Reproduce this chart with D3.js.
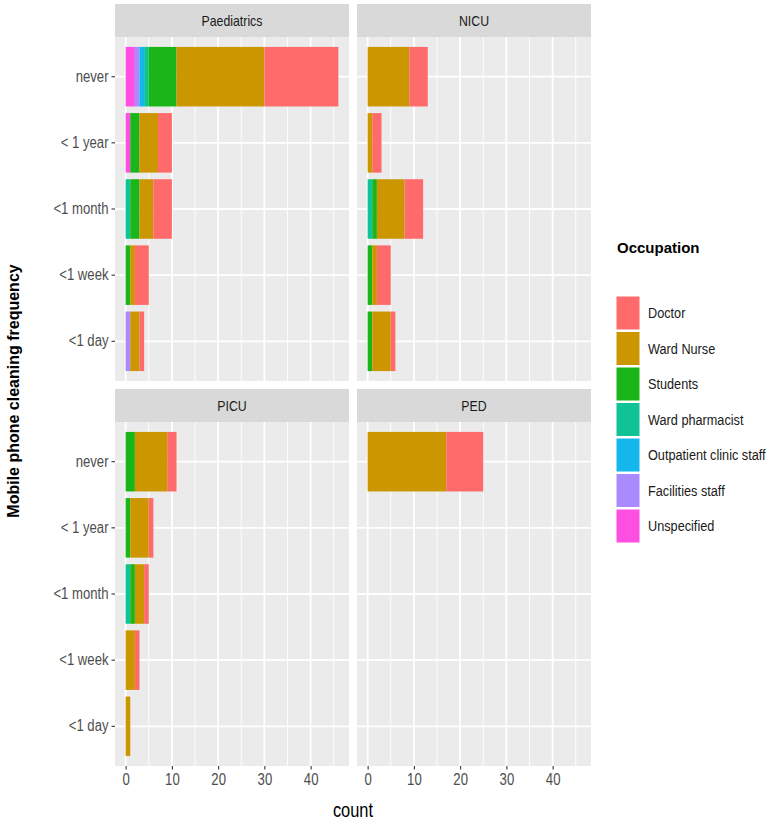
<html>
  <head>
    <style>
      body { margin: 0; background: white; }
      text { font-family: "Liberation Sans", Arial, Helvetica, sans-serif; }
    </style>
  </head>
  <body>
    <script src="https://d3js.org/d3.v7.min.js"></script>
    <script>
    // categories (top to bottom)
    var freq = ["never", "< 1 year", "<1 month", "<1 week", "<1 day"];
    var units = ["Paediatrics", "NICU", "PICU", "PED"];
    var occupations = ["Doctor", "Ward Nurse", "Students", "Ward pharmacist",
                       "Outpatient clinic staff", "Facilities staff", "Unspecified"];
    var colours = ["#FF6B6B", "#CC9600", "#19B519", "#10C396", "#14B7EC", "#A98AFF", "#FF4FE2"];

    // counts per occupation, in the order of freq
    var paediatrics = {
      "Doctor":                  [16, 3, 4, 3, 1],
      "Ward Nurse":              [19, 4, 3, 1, 2],
      "Students":                [6, 2, 2, 1, 0],
      "Ward pharmacist":         [1, 0, 1, 0, 0],
      "Outpatient clinic staff": [1, 0, 0, 0, 0],
      "Facilities staff":        [1, 0, 0, 0, 1],
      "Unspecified":             [2, 1, 0, 0, 0]
    };
    var nicu = {
      "Doctor":          [4, 2, 4, 3, 1],
      "Ward Nurse":      [9, 1, 6, 1, 4],
      "Students":        [0, 0, 1, 1, 1],
      "Ward pharmacist": [0, 0, 1, 0, 0]
    };
    var picu = {
      "Doctor":          [2, 1, 1, 1, 0],
      "Ward Nurse":      [7, 4, 2, 2, 1],
      "Students":        [2, 1, 1, 0, 0],
      "Ward pharmacist": [0, 0, 1, 0, 0]
    };
    var ped = {
      "Doctor":     [8, 0, 0, 0, 0],
      "Ward Nurse": [17, 0, 0, 0, 0]
    };
    var xTicks = [0, 10, 20, 30, 40];
    var xMinor = [5, 15, 25, 35, 45];

    var tables = [paediatrics, nicu, picu, ped];

    var width = 772, height = 823;
    var svg = d3.select("body").append("svg")
        .attr("width", width)
        .attr("height", height);

    var color = d3.scaleOrdinal().domain(occupations).range(colours);

    // panel layout
    var colX = [115, 357], panelW = 234;
    var rowY = [37, 422], panelH = 344, stripH = 33;

    var x = d3.scaleLinear().domain([-2.3, 48.3]).range([0, panelW]);
    var y = d3.scaleBand().domain(freq).range([0, panelH])
        .paddingInner(0.1).paddingOuter(0.15);

    // stack from the left: Unspecified ... Doctor
    var stackKeys = occupations.slice().reverse();

    units.forEach(function(name, i) {
      var col = i % 2, row = Math.floor(i / 2);
      var g = svg.append("g")
          .attr("transform", "translate(" + colX[col] + "," + rowY[row] + ")");

      // strip
      g.append("rect")
          .attr("x", 0).attr("y", -stripH)
          .attr("width", panelW).attr("height", stripH)
          .attr("fill", "#D9D9D9");
      g.append("text")
          .attr("class", "narrow")
          .attr("x", panelW / 2).attr("y", -stripH / 2)
          .attr("text-anchor", "middle")
          .attr("dominant-baseline", "central")
          .attr("font-size", 15)
          .attr("fill", "#1A1A1A")
          .text(name);

      // panel background and grid
      g.append("rect")
          .attr("width", panelW).attr("height", panelH)
          .attr("fill", "#EBEBEB");
      g.selectAll(".minor").data(xMinor).enter().append("line")
          .attr("x1", function(d) { return x(d); })
          .attr("x2", function(d) { return x(d); })
          .attr("y1", 0).attr("y2", panelH)
          .attr("stroke", "white").attr("stroke-width", 0.9);
      g.selectAll(".major").data(xTicks).enter().append("line")
          .attr("x1", function(d) { return x(d); })
          .attr("x2", function(d) { return x(d); })
          .attr("y1", 0).attr("y2", panelH)
          .attr("stroke", "white").attr("stroke-width", 1.8);
      g.selectAll(".hgrid").data(freq).enter().append("line")
          .attr("x1", 0).attr("x2", panelW)
          .attr("y1", function(d) { return y(d) + y.bandwidth() / 2; })
          .attr("y2", function(d) { return y(d) + y.bandwidth() / 2; })
          .attr("stroke", "white").attr("stroke-width", 1.8);

      // bars
      var tbl = tables[i];
      var rows = freq.map(function(f, k) {
        var r = { freq: f };
        stackKeys.forEach(function(o) { r[o] = tbl[o] ? tbl[o][k] : 0; });
        return r;
      });
      var series = d3.stack().keys(stackKeys)(rows);

      g.selectAll(".layer").data(series).enter().append("g")
          .attr("fill", function(d) { return color(d.key); })
        .selectAll("rect")
        .data(function(d) { return d.filter(function(s) { return s[1] > s[0]; }); })
        .enter().append("rect")
          .attr("x", function(d) { return x(d[0]); })
          .attr("width", function(d) { return x(d[1]) - x(d[0]); })
          .attr("y", function(d) { return y(d.data.freq); })
          .attr("height", y.bandwidth());

      // y axis on the left column
      if (col == 0) {
        var ya = g.append("g").call(d3.axisLeft(y).tickSize(3.5).tickPadding(3));
        ya.select(".domain").remove();
        ya.selectAll("line").attr("stroke", "#333333").attr("stroke-width", 1.1);
        ya.selectAll("text").attr("class", "narrow").attr("font-size", 16).attr("fill", "#4D4D4D")
            .style("font-family", "'Liberation Sans', Arial, sans-serif");
      }
      // x axis on the bottom row
      if (row == 1) {
        var xa = g.append("g")
            .attr("transform", "translate(0," + panelH + ")")
            .call(d3.axisBottom(x).tickValues(xTicks).tickSize(3.5).tickPadding(4));
        xa.select(".domain").remove();
        xa.selectAll("line").attr("stroke", "#333333").attr("stroke-width", 1.1);
        xa.selectAll("text").attr("class", "narrow").attr("font-size", 16).attr("fill", "#4D4D4D")
            .style("font-family", "'Liberation Sans', Arial, sans-serif");
      }
    });

    // axis titles
    svg.append("text")
        .attr("class", "narrow")
        .attr("x", (colX[0] + colX[1] + panelW) / 2)
        .attr("y", 817)
        .attr("text-anchor", "middle")
        .attr("font-size", 20)
        .attr("fill", "black")
        .text("count");

    svg.append("text")
        .attr("transform", "translate(19,391) rotate(-90)")
        .attr("text-anchor", "middle")
        .attr("font-size", 16)
        .attr("font-weight", "bold")
        .attr("fill", "black")
        .text("Mobile phone cleaning frequency");

    // legend
    var legend = svg.append("g").attr("transform", "translate(616,0)");
    legend.append("text")
        .attr("x", 1).attr("y", 253)
        .attr("font-size", 15)
        .attr("font-weight", "bold")
        .text("Occupation");

    var item = legend.selectAll(".item").data(occupations).enter().append("g")
        .attr("transform", function(d, k) { return "translate(0," + (296 + k * 35.5) + ")"; });
    item.append("rect")
        .attr("width", 24).attr("height", 34)
        .attr("fill", function(d) { return color(d); })
        .attr("stroke", "white").attr("stroke-width", 1);
    // legend labels squeezed with a transform so their box stays inside the page
    item.append("text")
        .attr("transform", "translate(32,17) scale(0.82,1)")
        .attr("dominant-baseline", "central")
        .attr("font-size", 15.5)
        .attr("fill", "#1A1A1A")
        .text(function(d) { return d; });

    // the reference uses a condensed face: squeeze the glyphs horizontally
    svg.selectAll("text.narrow").each(function() {
      var len = this.getComputedTextLength();
      d3.select(this)
          .attr("textLength", len * 0.82)
          .attr("lengthAdjust", "spacingAndGlyphs");
    });
    </script>
  </body>
</html>
